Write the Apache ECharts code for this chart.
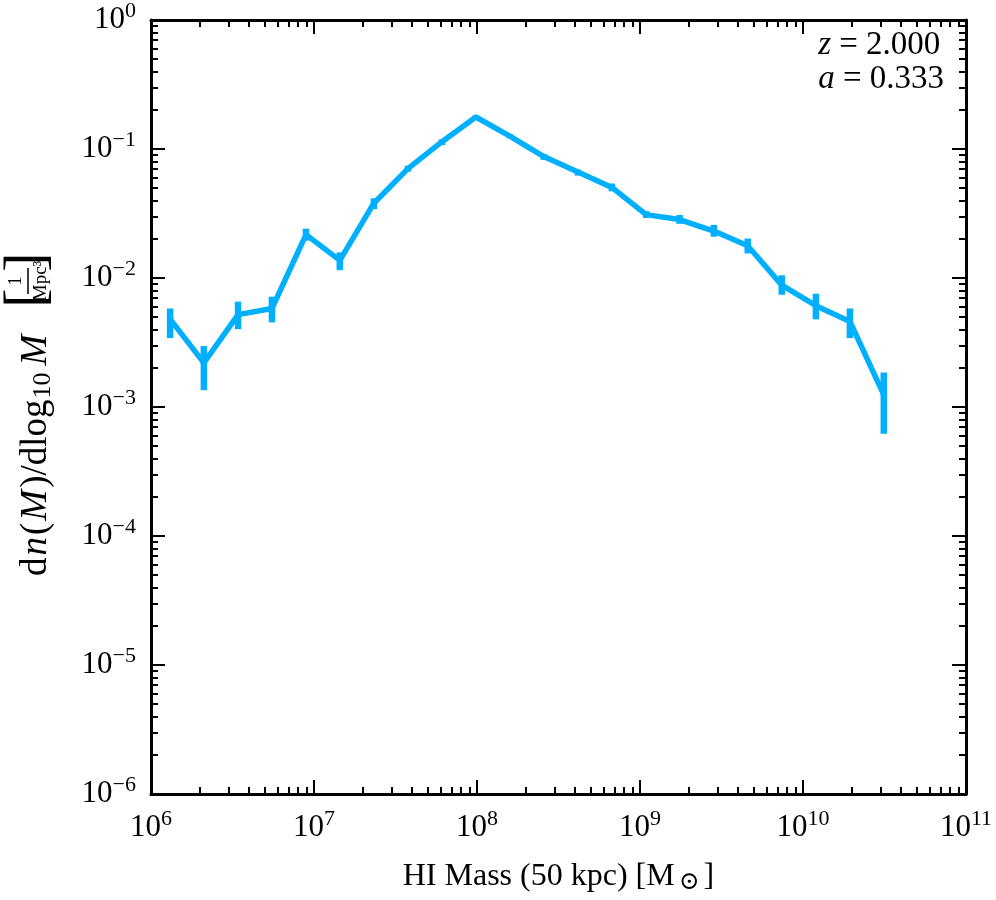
<!DOCTYPE html>
<html>
<head>
<meta charset="utf-8">
<script src="https://cdn.jsdelivr.net/npm/echarts@6/dist/echarts.min.js"></script>
<style>
  html, body { margin: 0; padding: 0; background: #fff; }
  #chart { width: 996px; height: 900px; }
</style>
</head>
<body>
<div id="chart"></div>
<script>
// HI mass function
var massBins = [1.31e6, 2.11e6, 3.42e6, 5.52e6, 8.93e6, 1.44e7, 2.33e7, 3.77e7, 6.10e7, 9.85e7, 1.59e8,
                2.57e8, 4.16e8, 6.72e8, 1.09e9, 1.75e9, 2.84e9, 4.58e9, 7.41e9, 1.20e10, 1.94e10, 3.13e10];
var dndlogM = [4.8e-3, 2.2e-3, 5.2e-3, 5.8e-3, 2.17e-2, 1.37e-2, 3.8e-2, 7.04e-2, 0.114, 0.177, 0.126,
               0.0873, 0.0664, 0.0504, 0.031, 0.0284, 0.0231, 0.0178, 8.8e-3, 6.1e-3, 4.6e-3, 1.24e-3];
var errHigh = [5.8e-3, 2.97e-3, 6.56e-3, 7.16e-3, 0.0241, 0.0158, 0.0415, 0.0741, 0.119, 0.182, 0.130,
               0.0916, 0.0692, 0.054, 0.033, 0.0308, 0.0258, 0.0202, 0.0105, 7.55e-3, 5.8e-3, 1.85e-3];
var errLow = [3.42e-3, 1.35e-3, 4.01e-3, 4.53e-3, 0.0195, 0.0115, 0.0342, 0.0667, 0.107, 0.169, 0.121,
              0.0824, 0.0622, 0.047, 0.0292, 0.0263, 0.0209, 0.0155, 7.41e-3, 4.78e-3, 3.42e-3, 6.2e-4];

var xMajor = [1e6, 1e7, 1e8, 1e9, 1e10, 1e11];
var yMajor = [1e-6, 1e-5, 1e-4, 1e-3, 1e-2, 1e-1, 1e0];

// minor ticks 2..9 within each decade
function minorTicks(major) {
    var out = [];
    for (var i = 0; i < major.length - 1; i++) {
        for (var k = 2; k <= 9; k++) out.push(major[i] * k);
    }
    return out;
}
var xMinor = minorTicks(xMajor);
var yMinor = minorTicks(yMajor);

var FONT = 'Liberation Serif';
var COLOR = '#00b0ff';

var powRich = {
    b: { fontFamily: FONT, fontSize: 31, color: '#000' },
    s: { fontFamily: FONT, fontSize: 22, color: '#000', padding: [0, 0, 18, 0] }
};
function powLabel(v) {
    var e = Math.round(Math.log10(v));
    return '{b|10}{s|' + (e < 0 ? '\u2212' + (-e) : e) + '}';
}

function makeAxis(pos, min, max, ticks, len, isMajor, withLabel, margin) {
    return {
        type: 'log',
        logBase: 10,
        position: pos,
        min: min,
        max: max,
        axisLine: { show: isMajor, lineStyle: { color: '#000', width: 3 } },
        axisTick: { show: true, inside: true, length: len, customValues: ticks,
                    lineStyle: { color: '#000', width: 2 } },
        axisLabel: withLabel ? { show: true, customValues: ticks, formatter: powLabel,
                                 rich: powRich, margin: margin } : { show: false },
        splitLine: { show: false },
        minorTick: { show: false }
    };
}

var chart = echarts.init(document.getElementById('chart'));

var xAxes = [
    makeAxis('bottom', 1e6, 1e11, xMajor, 14, true, true, 14),
    makeAxis('bottom', 1e6, 1e11, xMinor, 7, false, false),
    makeAxis('top', 1e6, 1e11, xMajor, 14, true, false),
    makeAxis('top', 1e6, 1e11, xMinor, 7, false, false)
];
xAxes[0].name = 'HI Mass (50 kpc) [M{o|\u2299}]';
xAxes[0].nameLocation = 'middle';
xAxes[0].nameGap = 64;
xAxes[0].nameTextStyle = {
    fontFamily: FONT, fontSize: 32, color: '#000',
    rich: { o: { fontFamily: 'DejaVu Serif', fontSize: 25, color: '#000', padding: [12, 4, 0, 4] } }
};

var yAxes = [
    makeAxis('left', 1e-6, 1, yMajor, 14, true, true, 15),
    makeAxis('left', 1e-6, 1, yMinor, 7, false, false),
    makeAxis('right', 1e-6, 1, yMajor, 14, true, false),
    makeAxis('right', 1e-6, 1, yMinor, 7, false, false)
];

var option = {
    backgroundColor: '#FFFFFF',
    animation: false,
    grid: { left: 151, right: 30, top: 13, bottom: 101, containLabel: false },
    xAxis: xAxes,
    yAxis: yAxes,
    series: [{
        name: 'errors',
        type: 'custom',
        xAxisIndex: 0,
        yAxisIndex: 0,
        data: massBins.map(function (m, i) { return [m, errLow[i], errHigh[i]]; }),
        renderItem: function (params, api) {
            var lo = api.coord([api.value(0), api.value(1)]);
            var hi = api.coord([api.value(0), api.value(2)]);
            return {
                type: 'line',
                shape: { x1: lo[0], y1: lo[1], x2: hi[0], y2: hi[1] },
                style: { stroke: COLOR, lineWidth: 6.5 }
            };
        },
        z: 2
    }, {
        name: 'HI',
        type: 'line',
        xAxisIndex: 0,
        yAxisIndex: 0,
        symbol: 'none',
        data: massBins.map(function (m, i) { return [m, dndlogM[i]]; }),
        lineStyle: { color: COLOR, width: 5.5 },
        itemStyle: { color: COLOR },
        z: 3
    }],
    graphic: [{
        type: 'group',
        x: 36,
        y: 416,
        rotation: Math.PI / 2,
        children: [{
            type: 'text',
            x: -160,
            y: 0,
            style: {
                text: '{r|d}{i|n}{r|(}{i|M}{r|)/dlog}{s|10}{i|M}',
                align: 'left',
                verticalAlign: 'middle',
                rich: {
                    r: { fontFamily: FONT, fontSize: 37, fill: '#000' },
                    i: { fontFamily: FONT, fontSize: 37, fontStyle: 'italic', fill: '#000', padding: [0, 2, 0, 2] },
                    s: { fontFamily: FONT, fontSize: 26, fill: '#000', padding: [14, 5, 0, 1] }
                }
            }
        }, {
            type: 'text', x: 118, y: -8,
            style: { text: '[', fontFamily: FONT, fontSize: 58, fill: '#000', align: 'center', verticalAlign: 'middle' }
        }, {
            type: 'text', x: 135, y: -20,
            style: { text: '1', fontFamily: FONT, fontSize: 19, fill: '#000', align: 'center', verticalAlign: 'middle' }
        }, {
            type: 'line', shape: { x1: 122, y1: -8, x2: 148, y2: -8 },
            style: { stroke: '#000', lineWidth: 1.5 }
        }, {
            type: 'text', x: 135, y: 5,
            style: { text: 'Mpc\u00b3', fontFamily: FONT, fontSize: 19, fill: '#000', align: 'center', verticalAlign: 'middle' }
        }, {
            type: 'text', x: 154, y: -8,
            style: { text: ']', fontFamily: FONT, fontSize: 58, fill: '#000', align: 'center', verticalAlign: 'middle' }
        }]
    }, {
        type: 'text',
        right: 52,
        top: 28,
        style: {
            text: '{i|z} = 2.000\n{i|a} = 0.333',
            align: 'right',
            lineHeight: 34,
            rich: {
                i: { fontFamily: FONT, fontSize: 33, fontStyle: 'italic', fill: '#000', lineHeight: 34 }
            },
            fontFamily: FONT,
            fontSize: 33,
            fill: '#000'
        }
    }]
};

chart.setOption(option);
window.onresize = function () {
    chart.resize();
};
</script>
</body>
</html>
